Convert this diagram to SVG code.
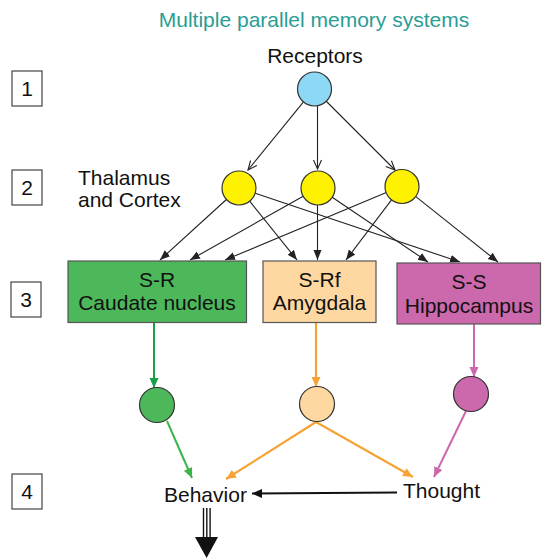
<svg xmlns="http://www.w3.org/2000/svg" width="549" height="558" viewBox="0 0 549 558">
  <defs>
    <style>
      text { font-family: "Liberation Sans", Arial, Helvetica, sans-serif; font-size: 21px; fill: #111; }
      .title { fill: #2a9d94; }
      .mid { text-anchor: middle; }
      .num { fill: #fff; stroke: #444; stroke-width: 1.2; }
      .node { stroke: #333; stroke-width: 1.2; }
      .box { stroke: #555; stroke-width: 1.2; }
      .thin { fill: none; stroke: #222; stroke-width: 1.1; }
      .g { fill: none; stroke: #3bb54a; stroke-width: 2; }
      .gv { fill: none; stroke: #1f9e4a; stroke-width: 2; }
      .o { fill: none; stroke: #f7a234; stroke-width: 2.2; }
      .p { fill: none; stroke: #cc68ac; stroke-width: 2; }
    </style>
    <marker id="chev" markerUnits="userSpaceOnUse" markerWidth="12" markerHeight="12" refX="10" refY="5" orient="auto">
      <path d="M1,1 L10,5 L1,9" fill="none" stroke="#222" stroke-width="1.1"/>
    </marker>
    <marker id="tri" markerUnits="userSpaceOnUse" markerWidth="12" markerHeight="12" refX="10" refY="5" orient="auto">
      <path d="M0,1 L10,5 L0,9 Z" fill="#222"/>
    </marker>
    <marker id="triG" markerUnits="userSpaceOnUse" markerWidth="12" markerHeight="12" refX="10" refY="5" orient="auto">
      <path d="M0,0.5 L10,5 L0,9.5 Z" fill="#3bb54a"/>
    </marker>
    <marker id="triGv" markerUnits="userSpaceOnUse" markerWidth="12" markerHeight="12" refX="10" refY="5" orient="auto">
      <path d="M0,0.5 L10,5 L0,9.5 Z" fill="#1f9e4a"/>
    </marker>
    <marker id="triO" markerUnits="userSpaceOnUse" markerWidth="12" markerHeight="12" refX="10" refY="5" orient="auto">
      <path d="M0,0.5 L10,5 L0,9.5 Z" fill="#f7a234"/>
    </marker>
    <marker id="triP" markerUnits="userSpaceOnUse" markerWidth="12" markerHeight="12" refX="10" refY="5" orient="auto">
      <path d="M0,0.5 L10,5 L0,9.5 Z" fill="#cc68ac"/>
    </marker>
    <marker id="triK" markerUnits="userSpaceOnUse" markerWidth="12" markerHeight="12" refX="10" refY="5" orient="auto">
      <path d="M0,0.5 L10,5 L0,9.5 Z" fill="#111"/>
    </marker>
  </defs>

  <rect width="549" height="558" fill="#fff"/>

  <text class="title mid" x="314" y="27">Multiple parallel memory systems</text>

  <!-- level markers -->
  <g id="level-1"><rect class="num" x="12" y="71" width="30" height="35"/><text class="mid" x="27" y="96">1</text></g>
  <g id="level-2"><rect class="num" x="12" y="170" width="30" height="35"/><text class="mid" x="27" y="195">2</text></g>
  <g id="level-3"><rect class="num" x="11" y="282" width="30" height="35"/><text class="mid" x="26" y="307">3</text></g>
  <g id="level-4"><rect class="num" x="12" y="474" width="30" height="35"/><text class="mid" x="27" y="499">4</text></g>

  <!-- connectors -->
  <g id="connectors">
    <line class="thin" x1="303.3" y1="102.2" x2="248" y2="170" marker-end="url(#chev)"/>
    <line class="thin" x1="317.5" y1="106" x2="317.5" y2="169" marker-end="url(#chev)"/>
    <line class="thin" x1="326" y1="101" x2="395" y2="170" marker-end="url(#chev)"/>

    <line class="thin" x1="226.4" y1="199.5" x2="160" y2="260" marker-end="url(#tri)"/>
    <line class="thin" x1="249.7" y1="201.2" x2="297" y2="260" marker-end="url(#tri)"/>
    <line class="thin" x1="255.2" y1="193.3" x2="460" y2="262" marker-end="url(#tri)"/>
    <line class="thin" x1="303.2" y1="196.3" x2="190" y2="260" marker-end="url(#tri)"/>
    <line class="thin" x1="317.5" y1="205" x2="317.5" y2="260" marker-end="url(#tri)"/>
    <line class="thin" x1="332.2" y1="197.3" x2="428" y2="262" marker-end="url(#tri)"/>
    <line class="thin" x1="386.3" y1="192.6" x2="225" y2="260" marker-end="url(#tri)"/>
    <line class="thin" x1="391.7" y1="199.6" x2="346" y2="260" marker-end="url(#tri)"/>
    <line class="thin" x1="415.5" y1="196.4" x2="498" y2="262" marker-end="url(#tri)"/>

    <line class="gv" x1="154" y1="323" x2="154" y2="388" marker-end="url(#triGv)"/>
    <line class="o" x1="316" y1="323" x2="316" y2="387" marker-end="url(#triO)"/>
    <line class="p" x1="474" y1="324" x2="474" y2="377" marker-end="url(#triP)"/>

    <line class="g" x1="167" y1="421" x2="192" y2="478" marker-end="url(#triG)"/>
    <line class="o" x1="316" y1="422" x2="226" y2="479" marker-end="url(#triO)"/>
    <line class="o" x1="316" y1="422" x2="413" y2="477" marker-end="url(#triO)"/>
    <line class="p" x1="466" y1="411" x2="434" y2="477" marker-end="url(#triP)"/>

    <line fill="none" stroke="#111" stroke-width="2" x1="397" y1="492.5" x2="252" y2="493.5" marker-end="url(#triK)"/>

    <!-- output arrow below Behavior -->
    <g id="output-arrow" stroke="#111" stroke-width="1.4">
      <line x1="203.5" y1="508" x2="203.5" y2="540"/>
      <line x1="206.8" y1="508" x2="206.8" y2="540"/>
      <line x1="210.1" y1="508" x2="210.1" y2="540"/>
    </g>
    <path d="M195,537 L218,537 L206.6,558 Z" fill="#111"/>
  </g>

  <!-- input layer -->
  <g id="receptors">
    <text class="mid" x="315" y="63">Receptors</text>
    <circle class="node" cx="314.5" cy="89" r="17" fill="#8dd8f5"/>
  </g>

  <g id="thalamus-cortex">
    <text x="78" y="185">Thalamus</text>
    <text x="78" y="207">and Cortex</text>
  </g>
  <g id="tc-1"><circle class="node" cx="239" cy="188" r="17" fill="#fff200"/></g>
  <g id="tc-2"><circle class="node" cx="318" cy="188" r="17" fill="#fff200"/></g>
  <g id="tc-3"><circle class="node" cx="402" cy="186.5" r="17" fill="#fff200"/></g>

  <!-- memory systems -->
  <g id="sr-caudate">
    <rect class="box" x="68" y="261" width="178.5" height="61.5" fill="#4cb85a"/>
    <text class="mid" x="157" y="287">S-R</text>
    <text class="mid" x="157" y="310">Caudate nucleus</text>
  </g>
  <g id="srf-amygdala">
    <rect class="box" x="263" y="261" width="113" height="61.5" fill="#fed8a0"/>
    <text class="mid" x="319.5" y="287">S-Rf</text>
    <text class="mid" x="319.5" y="310">Amygdala</text>
  </g>
  <g id="ss-hippocampus">
    <rect class="box" x="397" y="263" width="143.5" height="61" fill="#cc68ac"/>
    <text class="mid" x="469" y="289">S-S</text>
    <text class="mid" x="469" y="313">Hippocampus</text>
  </g>

  <!-- outputs of each system -->
  <g id="out-sr"><circle class="node" cx="157" cy="405" r="17.5" fill="#4cb85a"/></g>
  <g id="out-srf"><circle class="node" cx="317" cy="404" r="17.5" fill="#fed8a0"/></g>
  <g id="out-ss"><circle class="node" cx="471" cy="394" r="17.5" fill="#cc68ac"/></g>

  <g id="behavior"><text x="164" y="502">Behavior</text></g>
  <g id="thought"><text x="403" y="498">Thought</text></g>
</svg>
